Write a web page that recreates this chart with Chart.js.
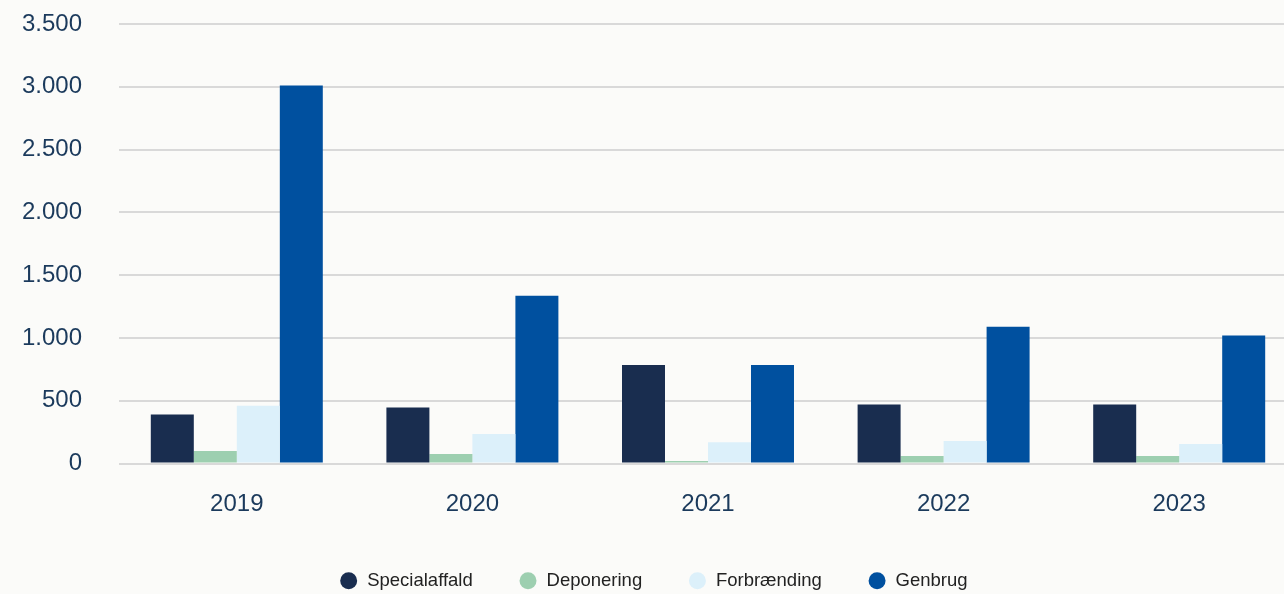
<!DOCTYPE html>
<html>
<head>
<meta charset="utf-8">
<script src="https://cdn.jsdelivr.net/npm/chart.js@4/dist/chart.umd.min.js"></script>
<style>
	html, body { margin: 0; padding: 0; background: #fbfbf9; overflow: hidden; }
	#wrap { width: 1300px; height: 594px; }
</style>
</head>
<body>
<div id="wrap"><canvas id="chart"></canvas></div>
<script>
const YEARS = ['2019', '2020', '2021', '2022', '2023'];
const SPECIALAFFALD = [390, 445, 785, 470, 470];
const DEPONERING = [100, 75, 20, 60, 60];
const FORBRAENDING = [460, 235, 170, 180, 155];
const GENBRUG = [3010, 1335, 785, 1090, 1020];

const Y_MAX = 3500;
const Y_STEP = 500;

const TEXT = '#1b3a5c';
const FONT = 'Liberation Sans, Arial, sans-serif';

// 3500 -> "3.500"
const fmt = (v) => String(v).replace(/\B(?=(\d{3})+(?!\d))/g, '.');

const bar = (label, data, color) => ({
	label,
	data,
	backgroundColor: color,
	borderColor: color,
	borderWidth: 0,
	barPercentage: 1,
	categoryPercentage: 0.73,
});

document.addEventListener('DOMContentLoaded', () => {
	new Chart(document.getElementById('chart'), {
		type: 'bar',
		data: {
			labels: YEARS,
			datasets: [
				bar('Specialaffald', SPECIALAFFALD, '#192d4f'),
				bar('Deponering', DEPONERING, '#9dcfb0'),
				bar('Forbrænding', FORBRAENDING, '#dcf0fa'),
				bar('Genbrug', GENBRUG, '#00509f'),
			],
		},
		options: {
			responsive: true,
			maintainAspectRatio: false,
			animation: false,
			layout: { padding: { top: 24, right: 3, left: 10, bottom: -6 } },
			plugins: {
				tooltip: { enabled: false },
				legend: {
					position: 'bottom',
					labels: {
						usePointStyle: true,
						pointStyle: 'circle',
						boxHeight: 12,
						padding: 46,
						color: '#222',
						font: { family: FONT, size: 18.5 },
					},
				},
			},
			scales: {
				x: {
					grid: { display: false },
					border: { display: false },
					ticks: {
						color: TEXT,
						padding: 18,
						font: { family: FONT, size: 24 },
					},
					afterFit: (s) => { s.height = 62; },
				},
				y: {
					min: 0,
					max: Y_MAX,
					border: { display: false },
					grid: { color: '#d9d9d9', lineWidth: 2, drawTicks: false },
					ticks: {
						stepSize: Y_STEP,
						color: TEXT,
						padding: 37,
						font: { family: FONT, size: 24 },
						callback: (v) => fmt(v),
					},
					afterFit: (s) => {
						s.width = 109;
						s.paddingTop = 0;
						s.paddingBottom = 0;
					},
				},
			},
		},
	});
});
</script>
</body>
</html>
